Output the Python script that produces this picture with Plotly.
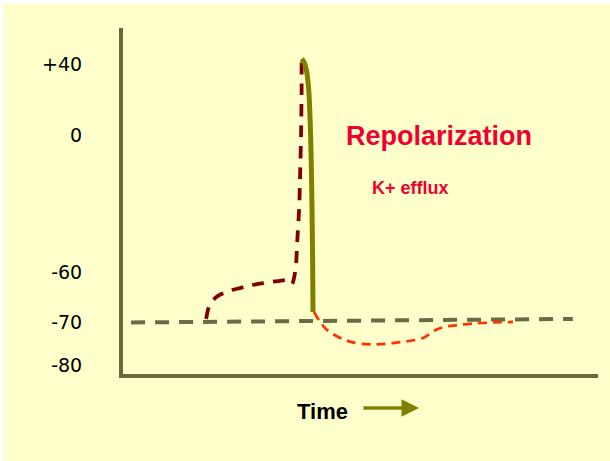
import numpy as np
import plotly.graph_objects as go

# ---------------- data ----------------
# y-axis tick labels (membrane potential, mV)
tick_mv = [40, 0, -60, -70, -80]
tick_labels = ["+40", "0", "-60", "-70", "-80"]

# resting potential (dashed baseline)
rest_t = [1.7, 94.7]
rest_mv = [-70.0, -69.3]

# depolarization (slow rise to threshold, then upstroke)
depol_t = [17.5, 17.9, 18.5, 19.4, 20.5, 22.5, 24.6, 27.2, 29.5, 32.6, 34.4, 35.6,
           36.0, 36.4, 36.7, 37.1, 37.3, 37.5, 37.6, 37.6]
depol_mv = [-69.3, -67.4, -66.0, -65.1, -64.4, -63.6, -63.1, -62.5, -62.1, -61.7, -61.5, -62.3,
            -61.1, -57.6, -45.8, -31.3, -16.4, 3.1, 25.5, 42.4]

# repolarization (K+ efflux)
repol_t = [37.6, 38.1, 38.6, 39.1, 39.5, 39.7, 39.9, 40.0]
repol_mv = [42.8, 41.1, 36.6, 25.5, 0.3, -19.5, -50.1, -67.9]

# hyperpolarization and return to rest
hyper_t = [40.2, 41.5, 42.7, 44.2, 46.1, 48.2, 50.3, 52.4, 55.2, 58.3, 61.5,
           63.2, 64.6, 65.9, 67.8, 70.5, 74.1, 78.3, 82.1]
hyper_mv = [-67.9, -69.9, -71.5, -72.7, -73.8, -74.6, -75.0, -75.1, -75.0, -74.6, -74.1,
            -73.6, -72.7, -71.7, -71.0, -70.6, -70.2, -70.0, -69.9]

# ---------------- schematic (non-uniform) y scale ----------------
# fraction of the axis height at which each tick label sits
TICK_LEVEL = [0.896, 0.689, 0.293, 0.149, 0.025]


def to_axis(mv):
    mv = np.asarray(mv, dtype=float)
    xp = np.array(tick_mv[::-1], dtype=float)
    fp = np.array(TICK_LEVEL[::-1], dtype=float)
    out = np.interp(mv, xp, fp)
    top_slope = (fp[-1] - fp[-2]) / (xp[-1] - xp[-2])
    bot_slope = (fp[1] - fp[0]) / (xp[1] - xp[0])
    out = np.where(mv > xp[-1], fp[-1] + (mv - xp[-1]) * top_slope, out)
    out = np.where(mv < xp[0], fp[0] + (mv - xp[0]) * bot_slope, out)
    return out


# ---------------- styling ----------------
OX, OY = 3, 4                     # page margin (white strip left / top)
W, H = 610 - OX, 461 - OY         # figure size
L, R, T, B = 120, 12, 24, 87
PW, PH = W - L - R, H - T - B

BG = "#FFFFCC"
AXIS = "#6B683A"
REST = "#6B6A45"
MAROON = "#800000"
OLIVE = "#808000"
ORANGE = "#FF3300"
RED = "#F00032"
FONT = "Arial, Liberation Sans, sans-serif"


def px_x(px):
    return (px - OX - L) / PW


def px_y(py):
    return (H - B - (py - OY)) / PH


fig = go.Figure()

fig.add_trace(go.Scatter(
    x=rest_t, y=to_axis(rest_mv), mode="lines",
    line=dict(color=REST, width=4, dash="14px,10px"),
    hoverinfo="skip"))

fig.add_trace(go.Scatter(
    x=depol_t, y=to_axis(depol_mv), mode="lines",
    line=dict(color=MAROON, width=3.8, dash="12px,9px", shape="spline", smoothing=0.5),
    hoverinfo="skip"))

fig.add_trace(go.Scatter(
    x=hyper_t, y=to_axis(hyper_mv), mode="lines",
    line=dict(color=ORANGE, width=2.7, dash="9px,6px", shape="spline", smoothing=0.8),
    hoverinfo="skip"))

fig.add_trace(go.Scatter(
    x=repol_t, y=to_axis(repol_mv), mode="lines",
    line=dict(color=OLIVE, width=5, shape="spline", smoothing=0.6),
    hoverinfo="skip"))

annotations = [
    dict(text="<b>Repolarization</b>", x=px_x(438.5), y=px_y(136), xref="paper", yref="paper",
         showarrow=False, font=dict(family=FONT, size=27, color=RED),
         xanchor="center", yanchor="middle"),
    dict(text="<b>K+ efflux</b>", x=px_x(410.5), y=px_y(188), xref="paper", yref="paper",
         showarrow=False, font=dict(family=FONT, size=18, color=RED),
         xanchor="center", yanchor="middle"),
    dict(text="<b>Time</b>", x=px_x(322), y=px_y(411), xref="paper", yref="paper",
         showarrow=False, font=dict(family=FONT, size=22, color="#000000"),
         xanchor="center", yanchor="middle"),
    dict(text="", x=px_x(419), y=px_y(408), xref="paper", yref="paper",
         showarrow=True, ax=-57, ay=0, axref="pixel", ayref="pixel",
         arrowcolor=OLIVE, arrowwidth=3.5, arrowhead=2, arrowsize=1),
]

fig.update_layout(
    width=W, height=H,
    margin=dict(l=L, r=R, t=T, b=B, pad=0),
    paper_bgcolor=BG,
    plot_bgcolor=BG,
    showlegend=False,
    annotations=annotations,
    xaxis=dict(range=[0, 100], showline=True, linecolor=AXIS, linewidth=4,
               showgrid=False, zeroline=False, showticklabels=False, ticks="",
               fixedrange=True),
    yaxis=dict(range=[0, 1], showline=True, linecolor=AXIS, linewidth=4,
               showgrid=False, zeroline=False, ticks="",
               tickmode="array", tickvals=list(to_axis(tick_mv)), ticktext=tick_labels,
               tickfont=dict(family="DejaVu Sans", size=19, color="#000000"),
               ticklabelstandoff=33, fixedrange=True),
)

fig.write_html(
    "out.html",
    config={"displayModeBar": False},
    post_script="document.body.style.margin='%dpx 0 0 %dpx';"
                "document.body.style.overflow='hidden';" % (OY, OX),
)
